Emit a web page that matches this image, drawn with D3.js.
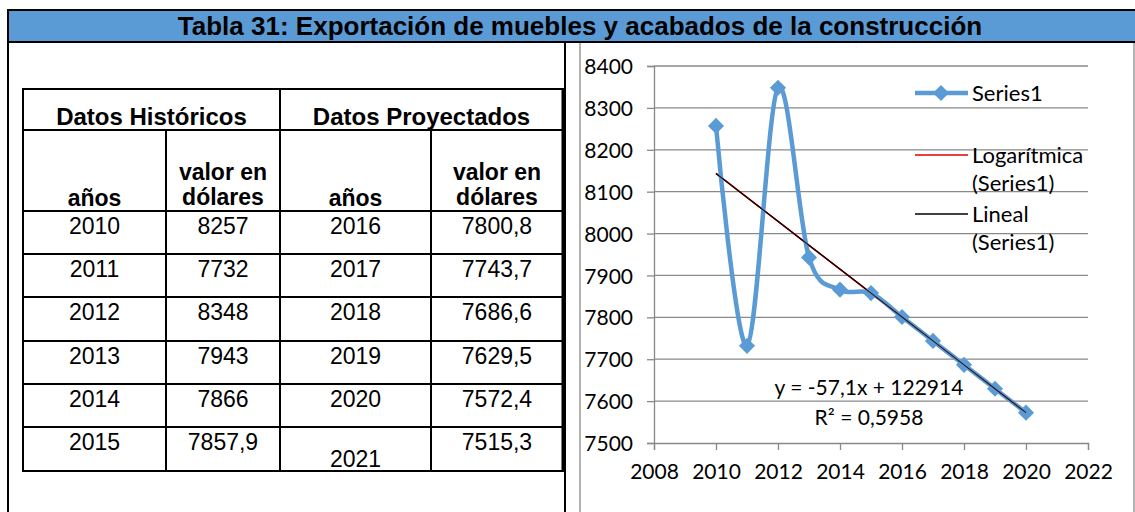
<!DOCTYPE html>
<html>
<head>
<meta charset="utf-8">
<script src="https://cdn.jsdelivr.net/npm/d3@7"></script>
<style>
  body { margin: 0; background: #fff; }
  svg { display: block; }
</style>
</head>
<body>
<div id="chart"></div>
<script>
// data
const title = "Tabla 31: Exportación de muebles y acabados de la construcción";
const histYears = [2010, 2011, 2012, 2013, 2014, 2015];
const histValues = [8257, 7732, 8348, 7943, 7866, 7857.9];
const projYears = [2016, 2017, 2018, 2019, 2020, 2021];
const projValues = [7800.8, 7743.7, 7686.6, 7629.5, 7572.4, 7515.3];
const yTicks = [7500, 7600, 7700, 7800, 7900, 8000, 8100, 8200, 8300, 8400];
const xTicks = [2008, 2010, 2012, 2014, 2016, 2018, 2020, 2022];
const legendItems = [["Series1"], ["Logarítmica", "(Series1)"], ["Lineal", "(Series1)"]];
const equationLines = ["y = -57,1x + 122914", "R² = 0,5958"];

const width = 1135, height = 512;
const blue = "#5b9bd5";
const grid = "#898989";

const svg = d3.select("#chart").append("svg")
    .attr("width", width)
    .attr("height", height);

// title bar
svg.append("rect").attr("x", 8).attr("y", 10).attr("width", width - 8).attr("height", 32)
    .attr("fill", blue);
svg.append("line").attr("x1", 7).attr("x2", width).attr("y1", 10).attr("y2", 10)
    .attr("stroke", "#000").attr("stroke-width", 2);
svg.append("line").attr("x1", 7).attr("x2", width).attr("y1", 42).attr("y2", 42)
    .attr("stroke", "#000").attr("stroke-width", 2);
svg.append("text").attr("x", 580).attr("y", 35).attr("text-anchor", "middle")
    .attr("font-family", "Liberation Sans, Arial, sans-serif").attr("font-weight", "bold")
    .attr("font-size", 26).attr("fill", "#000").text(title);

// panel borders
svg.append("line").attr("x1", 8).attr("x2", 8).attr("y1", 9).attr("y2", height)
    .attr("stroke", "#000").attr("stroke-width", 2);
svg.append("line").attr("x1", 565).attr("x2", 565).attr("y1", 42).attr("y2", height)
    .attr("stroke", "#000").attr("stroke-width", 2);
svg.append("line").attr("x1", 580).attr("x2", 580).attr("y1", 43).attr("y2", height)
    .attr("stroke", "#9a9a9a").attr("stroke-width", 1.5);
svg.append("line").attr("x1", 1134).attr("x2", 1134).attr("y1", 43).attr("y2", height)
    .attr("stroke", "#9a9a9a").attr("stroke-width", 1.5);

// ---- table ----
const fmt = v => String(v).replace(".", ",");
const colX = [23, 166, 280, 431, 563];
const rowY = [89, 130, 211, 254, 297, 341, 384, 427, 471];
const table = svg.append("g").attr("font-family", "Liberation Sans, Arial, sans-serif")
    .attr("font-size", 23).attr("fill", "#000");

// horizontal lines
table.selectAll("line.h").data(rowY).enter().append("line")
    .attr("x1", colX[0] - 1).attr("x2", colX[4] + 1)
    .attr("y1", d => d).attr("y2", d => d)
    .attr("stroke", "#000").attr("stroke-width", 2);
// vertical lines (inner ones start below group header, except the middle one)
const vLines = [
  {x: colX[0], y1: rowY[0], w: 2},
  {x: colX[1], y1: rowY[1], w: 2},
  {x: colX[2], y1: rowY[0], w: 2},
  {x: colX[3], y1: rowY[1], w: 2},
  {x: colX[4], y1: rowY[0], w: 3}
];
table.selectAll("line.v").data(vLines).enter().append("line")
    .attr("x1", d => d.x).attr("x2", d => d.x)
    .attr("y1", d => d.y1 - 1).attr("y2", rowY[rowY.length - 1] + 1)
    .attr("stroke", "#000").attr("stroke-width", d => d.w);

const mid = (a, b) => (a + b) / 2;
table.append("text").attr("x", mid(colX[0], colX[2])).attr("y", 125).attr("text-anchor", "middle")
    .attr("font-weight", "bold").attr("font-size", 24).text("Datos Históricos");
table.append("text").attr("x", mid(colX[2], colX[4])).attr("y", 125).attr("text-anchor", "middle")
    .attr("font-weight", "bold").attr("font-size", 24).text("Datos Proyectados");

[0, 2].forEach(c => {
  table.append("text").attr("x", mid(colX[c], colX[c + 1])).attr("y", 206)
      .attr("text-anchor", "middle").attr("font-weight", "bold").text("años");
  table.append("text").attr("x", mid(colX[c + 1], colX[c + 2])).attr("y", 180)
      .attr("text-anchor", "middle").attr("font-weight", "bold").text("valor en");
  table.append("text").attr("x", mid(colX[c + 1], colX[c + 2])).attr("y", 205)
      .attr("text-anchor", "middle").attr("font-weight", "bold").text("dólares");
});

const rows = histYears.map((y, i) => [y, histValues[i], projYears[i], projValues[i]]);
rows.forEach((r, i) => {
  const top = rowY[i + 2], bottom = rowY[i + 3];
  r.forEach((v, c) => {
    // the last projected year sits at the bottom of its cell
    const yPos = (i === rows.length - 1 && c === 2) ? bottom - 4 : top + 23;
    table.append("text").attr("x", mid(colX[c], colX[c + 1])).attr("y", yPos)
        .attr("text-anchor", "middle").text(c % 2 ? fmt(v) : v);
  });
});

// ---- chart ----
const chartYears = histYears.concat(projYears.slice(0, 5));
const chartValues = histValues.concat(projValues.slice(0, 5));
const points = chartYears.map((y, i) => ({year: y, value: chartValues[i]}));

const x = d3.scaleLinear().domain([2008, 2022]).range([654, 1088]);
const y = d3.scaleLinear().domain([7500, 8400]).range([443, 66]);
const chartFont = "Lato, 'Open Sans', sans-serif";

// gridlines
svg.append("g").selectAll("line").data(yTicks.slice(1)).enter().append("line")
    .attr("x1", x(2008)).attr("x2", x(2022))
    .attr("y1", d => y(d)).attr("y2", d => y(d))
    .attr("stroke", grid).attr("stroke-width", 1.3);

const yAxis = svg.append("g").attr("transform", `translate(${x(2008)},0)`)
    .call(d3.axisLeft(y).tickValues(yTicks).tickSize(7).tickPadding(14).tickFormat(d3.format("d")));
const xAxis = svg.append("g").attr("transform", `translate(0,${y(7500)})`)
    .call(d3.axisBottom(x).tickValues(xTicks).tickSize(7).tickPadding(14).tickFormat(d3.format("d")));
[yAxis, xAxis].forEach(a => {
  a.select(".domain").attr("stroke", grid).attr("stroke-width", 1.3);
  a.selectAll(".tick line").attr("stroke", grid).attr("stroke-width", 1.3);
  a.selectAll(".tick text").attr("font-family", chartFont).attr("font-size", 21).attr("fill", "#000");
});
yAxis.selectAll(".tick text").attr("dy", "0.36em");

// trendlines: least squares on the series (linear and logarithmic)
const fit = fx => {
  const xs = points.map(p => fx(p.year)), ys = points.map(p => p.value);
  const mx = d3.mean(xs), my = d3.mean(ys);
  const b = d3.sum(xs, (v, i) => (v - mx) * (ys[i] - my)) / d3.sum(xs, v => (v - mx) ** 2);
  return t => my + b * (fx(t) - mx);
};
const linFit = fit(t => t);
const logFit = fit(t => Math.log(t));

const trend = f => d3.line().x(d => x(d)).y(d => y(f(d)));
svg.append("path").attr("d", trend(logFit)(chartYears))
    .attr("fill", "none").attr("stroke", "#e00000").attr("stroke-width", 1.6);
svg.append("path").attr("d", trend(linFit)(chartYears))
    .attr("fill", "none").attr("stroke", "#000").attr("stroke-width", 1.2).attr("stroke-opacity", 0.85);

// smoothed series
const line = d3.line().x(d => x(d.year)).y(d => y(d.value)).curve(d3.curveCardinal.tension(0));
svg.append("path").attr("d", line(points))
    .attr("fill", "none").attr("stroke", blue).attr("stroke-width", 4.5)
    .attr("stroke-linejoin", "round");

const diamond = d3.symbol(d3.symbolSquare, 130);
svg.append("g").selectAll("path").data(points).enter().append("path")
    .attr("d", diamond)
    .attr("transform", d => `translate(${x(d.year)},${y(d.value)}) rotate(45)`)
    .attr("fill", blue);

// linear trend again on top, as in the reference
svg.append("path").attr("d", trend(linFit)(chartYears))
    .attr("fill", "none").attr("stroke", "#2a0000").attr("stroke-width", 1.1).attr("stroke-opacity", 0.9);

// equation label
svg.append("g").selectAll("text").data(equationLines).enter().append("text")
    .attr("x", 869).attr("y", (d, i) => 395 + i * 30)
    .attr("text-anchor", "middle").attr("font-family", chartFont).attr("font-size", 21)
    .attr("fill", "#000").text(d => d);

// legend
const legend = svg.append("g").attr("font-family", chartFont).attr("font-size", 22).attr("fill", "#000");
const legendY = [93, 155, 214];
const legendStroke = [{c: blue, w: 4.5}, {c: "#e00000", w: 1.4}, {c: "#000", w: 1.4}];
legendItems.forEach((lines, i) => {
  legend.append("line").attr("x1", 915).attr("x2", 968).attr("y1", legendY[i]).attr("y2", legendY[i])
      .attr("stroke", legendStroke[i].c).attr("stroke-width", legendStroke[i].w);
  if (i === 0) {
    legend.append("path").attr("d", diamond)
        .attr("transform", `translate(941,${legendY[i]}) rotate(45)`).attr("fill", blue);
  }
  lines.forEach((t, k) => {
    legend.append("text").attr("x", 972).attr("y", legendY[i] + 8 + k * 28).text(t);
  });
});
</script>
</body>
</html>
